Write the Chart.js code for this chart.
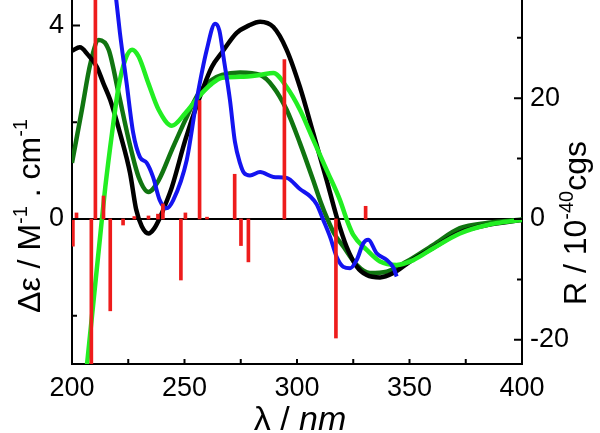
<!DOCTYPE html>
<html>
<head>
<meta charset="utf-8">
<script src="https://cdn.jsdelivr.net/npm/chart.js"></script>
<style>
  html, body { margin: 0; padding: 0; background: #fff; }
</style>
</head>
<body>
<canvas id="cdChart" width="600" height="433"></canvas>
<script>
    // ECD spectra (left axis, delta epsilon) and rotatory strengths (right axis, R)
    const nmBlack = [200, 203.5, 207, 211, 214, 217, 221.3, 225.8, 228.5, 231, 234, 236.5, 238.8, 241.5, 244.4, 250.4, 256.3, 262.2, 266.7, 273.2, 278.5, 283.6, 289.5, 295.4, 301.3, 307.2, 313.2, 317.6, 322, 326.5, 331, 336.9, 342.8, 350.2, 360.4, 372.4, 385, 400];
    const deBlack = [3.48, 3.55, 3.4, 3.15, 2.8, 2.46, 1.78, 0.95, 0.2, -0.15, -0.3, -0.2, 0, 0.3, 0.66, 1.64, 2.46, 3.15, 3.45, 3.85, 4.0, 4.08, 3.97, 3.5, 2.73, 1.78, 0.8, 0.05, -0.57, -0.98, -1.16, -1.21, -1.12, -0.88, -0.6, -0.28, -0.12, -0.02];

    const nmDark = [200, 204.4, 208.1, 211.9, 216.3, 220.7, 225.2, 229.6, 234, 238.5, 244.4, 250.4, 256.3, 262.2, 266.7, 274.7, 283.6, 289.5, 295.4, 301.3, 307.2, 310.5, 313.5, 316.5, 320.6, 326.5, 332.4, 339.9, 348.8, 360.4, 372.4, 385, 400];
    const deDark = [1.16, 2.26, 3.2, 3.7, 3.5, 2.6, 1.64, 0.87, 0.56, 0.8, 1.43, 2.05, 2.6, 2.88, 2.98, 3.03, 2.98, 2.73, 2.26, 1.57, 0.8, 0.35, 0, -0.3, -0.57, -0.95, -1.12, -1.09, -0.88, -0.54, -0.19, -0.08, -0.01];

    const nmLime = [205, 206.7, 213.3, 214.8, 217.8, 220.7, 223.7, 226.7, 229.6, 234, 238.5, 244.4, 250.4, 256.3, 262.2, 266.7, 274.7, 283.6, 289.5, 295.4, 301.3, 307.2, 313.2, 319.1, 322, 325, 331, 336.9, 344.3, 351.7, 360.4, 372.4, 385, 400];
    const deLime = [-3.75, -3.0, 0, 0.66, 1.78, 2.73, 3.3, 3.5, 3.36, 2.8, 2.26, 1.93, 2.19, 2.53, 2.8, 2.92, 2.94, 2.98, 3.02, 2.73, 2.26, 1.64, 1.01, 0.39, 0, -0.33, -0.64, -0.88, -0.95, -0.85, -0.61, -0.3, -0.12, -0.02];

    const nmBlue = [217.5, 219.5, 221.3, 224.3, 227.2, 230.2, 233.2, 236, 239, 242, 245, 251, 255.4, 259.9, 263.6, 265.5, 267.5, 270.2, 272.4, 274.7, 276.5, 279.1, 283.6, 289.5, 295.4, 301.3, 305.8, 308.8, 311.5, 314.7, 317.6, 320.6, 323.6, 326.5, 329.5, 331.7, 335.4, 339.9, 342.8, 344.3];
    const deBlue = [5.3, 4.6, 3.85, 2.8, 1.78, 1.28, 1.16, 0.87, 0.39, 0.22, 0.39, 1.22, 2.46, 3.5, 4.04, 3.9, 3.3, 2.46, 1.6, 1.15, 0.95, 0.9, 0.97, 0.87, 0.85, 0.62, 0.47, 0.3, 0.0, -0.37, -0.78, -0.99, -1.02, -0.85, -0.5, -0.43, -0.71, -0.85, -1.0, -1.19];

    const stickNm = [200.4, 202, 208.6, 210.4, 214, 217, 222.7, 227.7, 234, 238.2, 240.4, 248.4, 250.4, 256.7, 260, 272.3, 275.1, 278.4, 294.4, 317.3, 330.5];
    const stickR = [-4.5, 1.0, -30, 40, 3.8, -15.2, -1.0, 0.4, 0.5, 0.8, 2.5, -10.1, 1.0, 19.6, 0.3, 7.4, -4.4, -7.1, 26.4, -19.7, 2.1];

    const xTicks = [200, 250, 300, 350, 400];
    const xMinor = [225, 275, 325, 375];
    const leftTicks = [0, 4];
    const leftMinor = [-2, 2];
    const rightTicks = [-20, 0, 20];
    const rightMinor = [-10, 10, 30];

    const FONT = '"Liberation Sans", Arial, sans-serif';

    function pts(xs, ys) {
        return xs.map((x, i) => ({ x: x, y: ys[i] }));
    }

    function curve(data, color, order, width) {
        return {
            type: 'line', data: data, yAxisID: 'y', borderColor: color, borderWidth: width,
            pointRadius: 0, fill: false, cubicInterpolationMode: 'monotone', order: order
        };
    }

    function drawRich(ctx, parts, x, y, size) {
        let total = 0;
        const fonts = parts.map(p => (p[1] === 'i' ? 'italic ' : '') + Math.round(p[1] === 's' ? size * 0.62 : size) + 'px ' + FONT);
        const widths = parts.map((p, i) => {
            ctx.font = fonts[i];
            const w = ctx.measureText(p[0]).width;
            total += w;
            return w;
        });
        let cx = x - total / 2;
        parts.forEach((p, i) => {
            ctx.font = fonts[i];
            ctx.fillText(p[0], cx, p[1] === 's' ? y - size * 0.42 : y);
            cx += widths[i];
        });
    }

    // zero line, inward ticks and axis titles
    const decor = {
        id: 'decor',
        beforeDatasetsDraw(chart) {
            const ctx = chart.ctx, a = chart.chartArea;
            const y0 = chart.scales.y.getPixelForValue(0);
            ctx.save();
            ctx.strokeStyle = '#000';
            ctx.lineWidth = 2;
            ctx.beginPath();
            ctx.moveTo(a.left, y0);
            ctx.lineTo(a.right, y0);
            ctx.stroke();
            ctx.restore();
        },
        afterDraw(chart) {
            const ctx = chart.ctx, a = chart.chartArea;
            const sx = chart.scales.x, sy = chart.scales.y, sr = chart.scales.y2;
            ctx.save();
            ctx.strokeStyle = '#000';
            ctx.lineWidth = 2;
            ctx.beginPath();
            xTicks.concat(xMinor).forEach(v => {
                const px = sx.getPixelForValue(v);
                ctx.moveTo(px, a.bottom);
                ctx.lineTo(px, a.bottom - 5);
            });
            leftTicks.forEach(v => { const py = sy.getPixelForValue(v); ctx.moveTo(a.left, py); ctx.lineTo(a.left + 8, py); });
            leftMinor.forEach(v => { const py = sy.getPixelForValue(v); ctx.moveTo(a.left, py); ctx.lineTo(a.left + 5, py); });
            rightTicks.forEach(v => { const py = sr.getPixelForValue(v); ctx.moveTo(a.right, py); ctx.lineTo(a.right - 8, py); });
            rightMinor.forEach(v => { const py = sr.getPixelForValue(v); ctx.moveTo(a.right, py); ctx.lineTo(a.right - 5, py); });
            ctx.stroke();

            ctx.fillStyle = '#000';
            ctx.textBaseline = 'alphabetic';
            drawRich(ctx, [['λ / ', 'n'], ['nm', 'i']], (a.left + a.right) / 2 + 3, 430, 34);

            ctx.save();
            ctx.translate(40, 216);
            ctx.rotate(-Math.PI / 2);
            drawRich(ctx, [['Δε / M', 'n'], ['-1', 's'], [' . cm', 'n'], ['-1', 's']], 0, 0, 32);
            ctx.restore();

            ctx.save();
            ctx.translate(586, 223);
            ctx.rotate(-Math.PI / 2);
            drawRich(ctx, [['R / 10', 'n'], ['-40', 's'], ['cgs', 'n']], 0, 0, 32);
            ctx.restore();
            ctx.restore();
        }
    };

    function fixBox(size, horizontal) {
        return function (scale) {
            if (horizontal) scale.height = size; else scale.width = size;
            scale.paddingTop = 0;
            scale.paddingBottom = 0;
            scale.paddingLeft = 0;
            scale.paddingRight = 0;
        };
    }

    let ctx = document.getElementById('cdChart').getContext('2d');
    let cdChart = new Chart(ctx, {
        data: {
            datasets: [
                {
                    type: 'bar', data: pts(stickNm, stickR), yAxisID: 'y2',
                    backgroundColor: '#ee1c1c', barThickness: 3, order: 0
                },
                curve(pts(nmBlue, deBlue), '#1414f0', 1, 4),
                curve(pts(nmLime, deLime), '#22ee22', 2, 4.5),
                curve(pts(nmBlack, deBlack), '#000000', 3, 4.5),
                curve(pts(nmDark, deDark), '#107510', 4, 4.5)
            ]
        },
        options: {
            responsive: false,
            animation: false,
            layout: { padding: 0 },
            plugins: { legend: { display: false }, tooltip: { enabled: false } },
            scales: {
                x: {
                    type: 'linear', min: 200, max: 400, offset: false,
                    grid: { display: false, drawTicks: false },
                    border: { display: true, color: '#000', width: 2 },
                    afterBuildTicks: s => { s.ticks = xTicks.map(v => ({ value: v })); },
                    afterFit: fixBox(69, true),
                    ticks: { padding: 8, color: '#000', font: { size: 27, family: FONT }, maxRotation: 0 }
                },
                y: {
                    type: 'linear', position: 'left', min: -3, max: 4.53,
                    grid: { display: false, drawTicks: false },
                    border: { display: true, color: '#000', width: 2 },
                    afterBuildTicks: s => { s.ticks = leftTicks.map(v => ({ value: v })); },
                    afterFit: fixBox(72, false),
                    ticks: { padding: 8, color: '#000', font: { size: 27, family: FONT } }
                },
                y2: {
                    type: 'linear', position: 'right', min: -24, max: 36.24,
                    grid: { display: false, drawTicks: false },
                    border: { display: true, color: '#000', width: 2 },
                    afterBuildTicks: s => { s.ticks = rightTicks.map(v => ({ value: v })); },
                    afterFit: fixBox(78, false),
                    ticks: { padding: 8, color: '#000', font: { size: 27, family: FONT } }
                }
            }
        },
        plugins: [decor]
    });
</script>
</body>
</html>
